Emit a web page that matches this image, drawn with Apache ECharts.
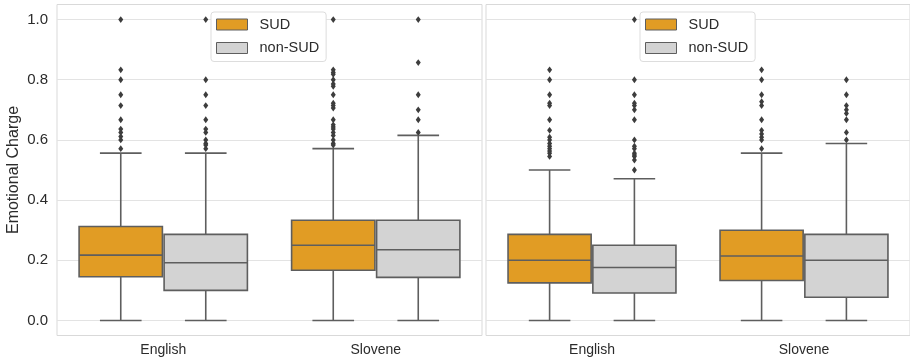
<!DOCTYPE html>
<html>
<head>
<meta charset="utf-8">
<script src="https://cdn.jsdelivr.net/npm/echarts@6/dist/echarts.min.js"></script>
<style>
  html, body { margin: 0; padding: 0; background: #ffffff; }
  #chart { width: 910px; height: 361px; }
</style>
</head>
<body>
<div id="chart"></div>
<script>
// Categories, hue groups and tick labels
const categories = ['English', 'Slovene'];
const groups = ['SUD', 'non-SUD'];
const yTicks = [0, 0.2, 0.4, 0.6, 0.8, 1.0];

// Box statistics per category: [lower whisker, Q1, median, Q3, upper whisker]
const leftSud = [[0, 0.145, 0.217, 0.312, 0.556], [0, 0.167, 0.25, 0.333, 0.571]];
const leftNonSud = [[0, 0.1, 0.192, 0.286, 0.556], [0, 0.143, 0.235, 0.333, 0.615]];
const rightSud = [[0, 0.125, 0.2, 0.286, 0.5], [0, 0.133, 0.214, 0.3, 0.556]];
const rightNonSud = [[0, 0.091, 0.176, 0.25, 0.471], [0, 0.077, 0.2, 0.286, 0.588]];

// Outliers per category
const leftSudOut = [
  [1.0, 0.833, 0.8, 0.75, 0.714, 0.667, 0.636, 0.625, 0.611, 0.6, 0.571],
  [1.0, 0.833, 0.824, 0.818, 0.8, 0.786, 0.778, 0.75, 0.722, 0.714, 0.706, 0.667, 0.65, 0.643, 0.636, 0.625, 0.615, 0.6, 0.588, 0.583]
];
const leftNonSudOut = [
  [1.0, 0.8, 0.75, 0.714, 0.667, 0.636, 0.625, 0.6, 0.588, 0.583, 0.571],
  [1.0, 0.857, 0.75, 0.7, 0.667, 0.625]
];
const rightSudOut = [
  [0.833, 0.8, 0.75, 0.722, 0.714, 0.667, 0.632, 0.609, 0.6, 0.588, 0.579, 0.571, 0.563, 0.556, 0.545],
  [0.833, 0.8, 0.75, 0.727, 0.714, 0.667, 0.632, 0.62, 0.609, 0.6, 0.571]
];
const rightNonSudOut = [
  [1.0, 0.8, 0.75, 0.722, 0.714, 0.7, 0.667, 0.6, 0.579, 0.571, 0.556, 0.55, 0.545, 0.533, 0.5],
  [0.8, 0.75, 0.714, 0.7, 0.688, 0.667, 0.625, 0.6]
];

const FONT = '"Liberation Sans", Arial, sans-serif';
const TEXT = '#2b2b2b';
const EDGE = '#5e5e5e';
const COLORS = { 'SUD': '#e19c24', 'non-SUD': '#d3d3d3' };
const HUE_WIDTH = 0.4;   // share of a category band per hue
const BOX_SHRINK = 0.98; // small gap between neighbouring boxes

function hueCenter(api, cat, hueIdx) {
  const band = api.size([1, 0])[0];
  const c = api.coord([cat, 0])[0];
  return c + (hueIdx === 0 ? -1 : 1) * band * HUE_WIDTH / 2;
}

function boxRender(hueIdx) {
  return function (params, api) {
    const cat = api.value(0);
    const band = api.size([1, 0])[0];
    const cx = hueCenter(api, cat, hueIdx);
    const w = band * HUE_WIDTH * BOX_SHRINK;
    const y = (v) => api.coord([cat, v])[1];
    const lo = y(api.value(1)), q1 = y(api.value(2)), md = y(api.value(3)),
          q3 = y(api.value(4)), hi = y(api.value(5));
    const line = { stroke: EDGE, lineWidth: 1.6 };
    return {
      type: 'group',
      children: [
        { type: 'line', shape: { x1: cx, y1: q1, x2: cx, y2: lo }, style: line },
        { type: 'line', shape: { x1: cx, y1: q3, x2: cx, y2: hi }, style: line },
        { type: 'line', shape: { x1: cx - w / 4, y1: lo, x2: cx + w / 4, y2: lo }, style: line },
        { type: 'line', shape: { x1: cx - w / 4, y1: hi, x2: cx + w / 4, y2: hi }, style: line },
        { type: 'rect', shape: { x: cx - w / 2, y: q3, width: w, height: q1 - q3 },
          style: { fill: api.visual('color'), stroke: EDGE, lineWidth: 1.6 } },
        { type: 'line', shape: { x1: cx - w / 2, y1: md, x2: cx + w / 2, y2: md }, style: line }
      ]
    };
  };
}

function outlierRender(hueIdx) {
  return function (params, api) {
    const cat = api.value(0);
    const cx = hueCenter(api, cat, hueIdx);
    const cy = api.coord([cat, api.value(1)])[1];
    return {
      type: 'polygon',
      shape: { points: [[cx, cy - 3.4], [cx + 2.5, cy], [cx, cy + 3.4], [cx - 2.5, cy]] },
      style: { fill: '#3d3d3d' }
    };
  };
}

function boxData(stats) {
  return stats.map((s, i) => [i, ...s]);
}
function outlierData(lists) {
  const out = [];
  lists.forEach((vals, i) => vals.forEach(v => out.push([i, v])));
  return out;
}

function panelSeries(gridIdx, sud, nonSud, sudOut, nonSudOut) {
  const sets = [[sud, sudOut], [nonSud, nonSudOut]];
  const series = [];
  sets.forEach(([stats, outs], h) => {
    series.push({
      name: groups[h], type: 'custom', xAxisIndex: gridIdx, yAxisIndex: gridIdx,
      itemStyle: { color: COLORS[groups[h]] },
      renderItem: boxRender(h),
      encode: { x: 0, y: [1, 2, 3, 4, 5] },
      data: boxData(stats), z: 2
    });
    series.push({
      name: groups[h] + ' outliers', type: 'custom', xAxisIndex: gridIdx, yAxisIndex: gridIdx,
      renderItem: outlierRender(h),
      encode: { x: 0, y: 1 },
      data: outlierData(outs), z: 3
    });
  });
  return series;
}

function yAxis(gridIdx, showLabels) {
  return {
    type: 'value', gridIndex: gridIdx, min: -0.05, max: 1.05,
    name: showLabels ? 'Emotional Charge' : '',
    nameLocation: 'middle', nameGap: 35,
    nameTextStyle: { fontFamily: FONT, fontSize: 16, color: TEXT },
    axisLine: { show: false },
    axisTick: { show: false, customValues: yTicks },
    axisLabel: {
      show: showLabels, customValues: yTicks, margin: 9,
      fontFamily: FONT, fontSize: 15, color: TEXT,
      formatter: (v) => v.toFixed(1)
    },
    splitLine: { show: true, lineStyle: { color: '#e3e3e3', width: 1 } }
  };
}

function xAxis(gridIdx) {
  return {
    type: 'category', gridIndex: gridIdx, data: categories,
    axisLine: { show: false }, axisTick: { show: false },
    axisLabel: { fontFamily: FONT, fontSize: 14, color: TEXT, margin: 8 },
    splitLine: { show: false }
  };
}

function legend(left) {
  return {
    data: groups, orient: 'vertical', left: left, top: 12,
    padding: [5, 7, 6, 5], itemGap: 8.5, itemWidth: 31, itemHeight: 11,
    backgroundColor: '#ffffff', borderColor: '#dddddd', borderWidth: 1, borderRadius: 3,
    icon: 'rect', selectedMode: false,
    itemStyle: { borderColor: EDGE, borderWidth: 1 },
    textStyle: { fontFamily: FONT, fontSize: 14.5, color: TEXT, padding: [0, 0, 0, 7] }
  };
}

const chart = echarts.init(document.getElementById('chart'), null, { renderer: 'canvas' });
chart.setOption({
  animation: false,
  backgroundColor: '#ffffff',
  grid: [
    { left: 57, top: 4.5, width: 425, height: 331, show: true, borderColor: '#d9d9d9', borderWidth: 1, backgroundColor: 'transparent' },
    { left: 486, top: 4.5, width: 424, height: 331, show: true, borderColor: '#d9d9d9', borderWidth: 1, backgroundColor: 'transparent' }
  ],
  xAxis: [xAxis(0), xAxis(1)],
  yAxis: [yAxis(0, true), yAxis(1, false)],
  legend: [legend(211), legend(640)],
  series: [
    ...panelSeries(0, leftSud, leftNonSud, leftSudOut, leftNonSudOut),
    ...panelSeries(1, rightSud, rightNonSud, rightSudOut, rightNonSudOut)
  ]
});
</script>
</body>
</html>
